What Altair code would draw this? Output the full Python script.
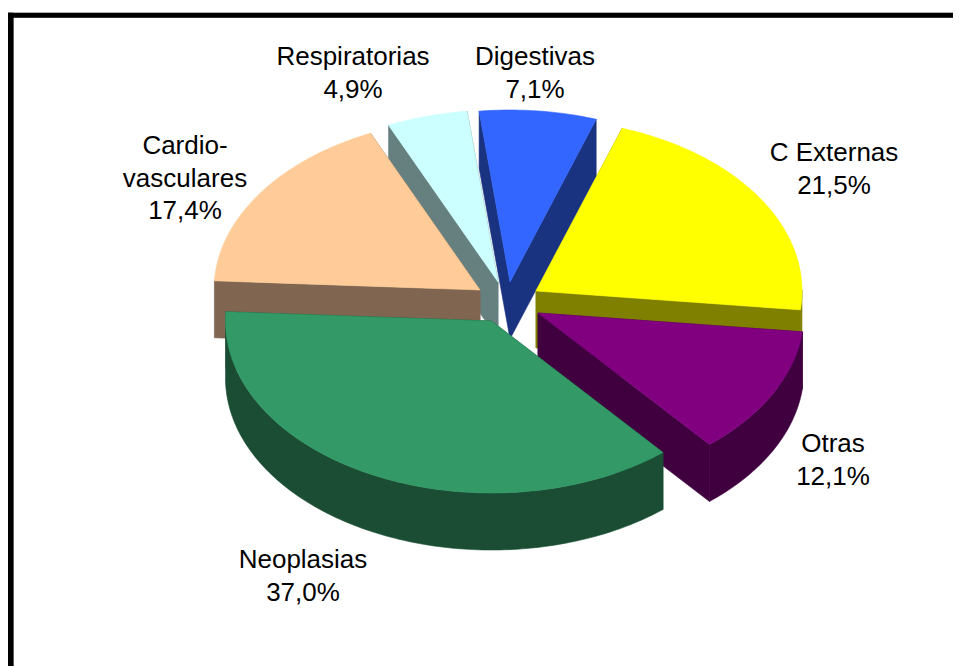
import math
import altair as alt

# --- data ---
categories = ["C Externas", "Otras", "Neoplasias", "Cardio-\nvasculares", "Respiratorias", "Digestivas"]
shares = [21.5, 12.1, 37.0, 17.4, 4.9, 7.1]
top_colors = ["#FFFF00", "#800080", "#339966", "#FFCC99", "#CCFFFF", "#3366FF"]
side_colors = ["#808000", "#400040", "#1A4D33", "#806650", "#668080", "#1A3380"]

# --- pie geometry (page pixels) ---
M = 8
W, H = 945, 658
RX, RY, DEPTH = 266, 172, 57
START_DEG = 18.9
apexes = [(536, 291), (538, 313), (491.5, 321), (480, 290), (498, 282), (510, 282)]
draw_order = [5, 4, 3, 0, 1, 2]
label_pos = [(834, 153), (833, 444), (303, 560), (185, 146), (353, 57), (535, 57)]
LINE = 32.5


def pt(a, t, dz=0):
    return (a[0] + RX * math.sin(t) - M, a[1] - RY * math.cos(t) + dz - M)


def poly(points, fill):
    ring = [list(p) for p in points]
    ring.append(ring[0])
    return {"type": "Feature", "properties": {"fill": fill},
            "geometry": {"type": "Polygon", "coordinates": [ring]}}


angles = []
cur = math.radians(START_DEG)
for s in shares:
    nxt = cur + s / 100 * 2 * math.pi
    angles.append((cur, nxt))
    cur = nxt

features = []
for i in draw_order:
    a0, a1 = angles[i]
    apex = apexes[i]
    n = max(8, int((a1 - a0) * 60))
    ts = [a0 + (a1 - a0) * k / n for k in range(n + 1)]
    centre = (apex[0] - M, apex[1] - M)
    low = (centre[0], centre[1] + DEPTH)
    side, top = side_colors[i], top_colors[i]
    features.append(poly([centre, pt(apex, a0), pt(apex, a0, DEPTH), low], side))
    features.append(poly([centre, pt(apex, a1), pt(apex, a1, DEPTH), low], side))
    vis = [t for t in ts if math.cos(t) < 0.02]
    if len(vis) > 1:
        features.append(poly([pt(apex, t) for t in vis] + [pt(apex, t, DEPTH) for t in reversed(vis)], side))
    features.append(poly([centre] + [pt(apex, t) for t in ts], top))

# frame: thick black line on top and left, running off the page
features.append(poly([(0, 5), (W, 5), (W, 9.5), (0, 9.5)], "#000000"))
features.append(poly([(0, 5), (5.3, 5), (5.3, H), (0, H)], "#000000"))

rows = []
for c, s, p in zip(categories, shares, label_pos):
    lines = c.split("\n") + [f"{s:.1f}%".replace(".", ",")]
    for k, line in enumerate(lines):
        rows.append({"t": line, "lon": p[0] - M, "lat": p[1] - M + k * LINE})

proj = alt.Projection(type="identity", scale=1, translate=[0, 0])

shapes = alt.Chart(alt.Data(values=features)).mark_geoshape(strokeWidth=0.6).encode(
    color=alt.Color("properties.fill:N", scale=None),
    stroke=alt.Stroke("properties.fill:N", scale=None),
)
text = alt.Chart(alt.Data(values=rows)).mark_text(
    font="Liberation Sans", fontSize=26, color="#000000", align="center", baseline="middle"
).encode(longitude="lon:Q", latitude="lat:Q", text="t:N")

chart = alt.layer(shapes, text, projection=proj).properties(
    width=W, height=H, padding=0, autosize=alt.AutoSizeParams(type="none"), background="#FFFFFF"
).configure_view(stroke=None)

chart.save("out.html", embed_options={"renderer": "svg", "actions": False})
